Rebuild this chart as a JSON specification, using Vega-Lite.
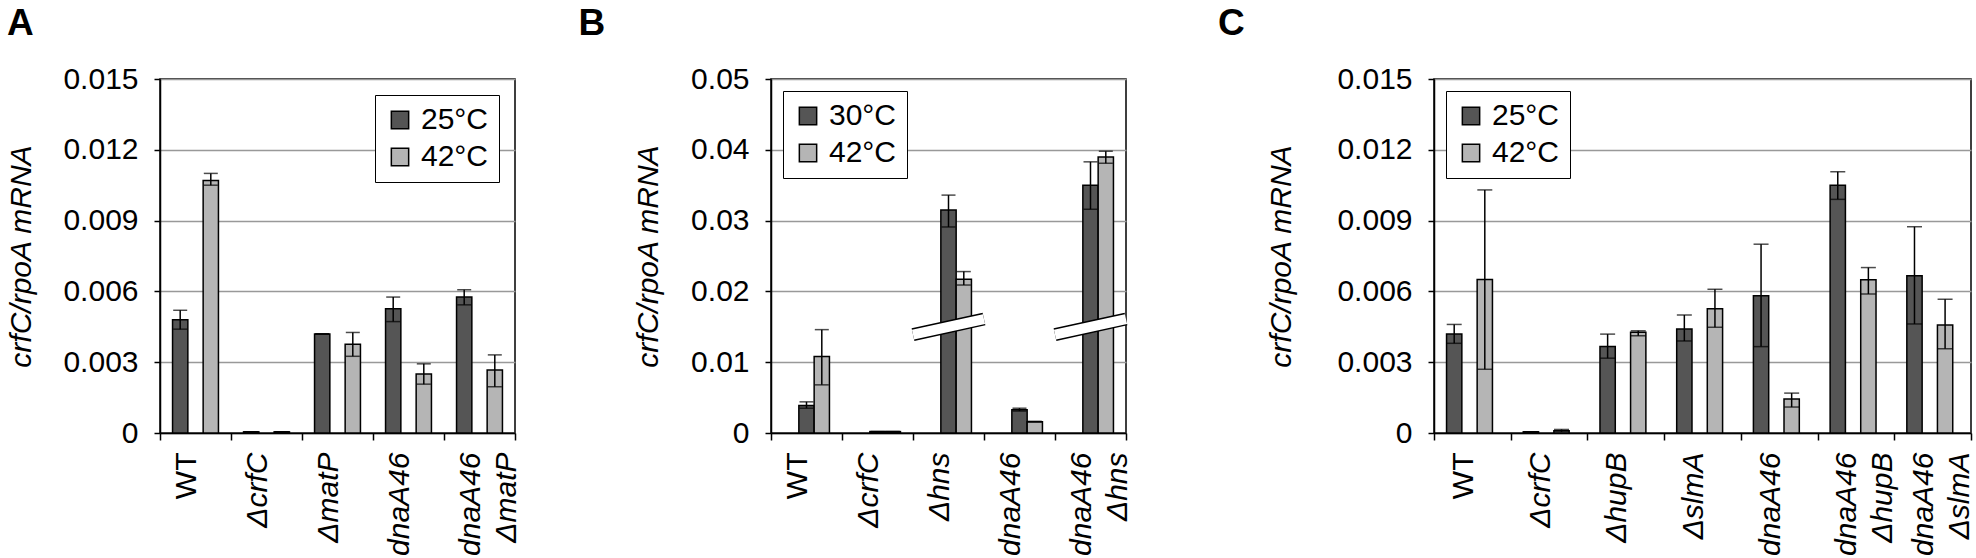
{
  "$schema": "https://vega.github.io/schema/vega-lite/v6.json",
  "padding": {"left": 6, "top": 4, "right": 0, "bottom": 0},
  "config": {
    "font": "Liberation Sans",
    "view": {"stroke": "black", "strokeWidth": 1.5},
    "axis": {
      "labelFont": "Liberation Sans", "labelFontSize": 30, "labelColor": "black",
      "titleFont": "Liberation Sans", "titleFontSize": 30, "titleFontWeight": "normal", "titleColor": "black",
      "tickColor": "black", "tickWidth": 1.5, "domainColor": "black", "domainWidth": 1.5
    },
    "axisX": {
      "tickBand": "extent", "tickSize": 7, "labelAngle": -90, "labelPadding": 12,
      "labelExpr": "split(datum.label, ' ')", "labelLineHeight": 36, "labelOffset": -9, "labelOverlap": false,
      "grid": false, "title": null,
      "labelFontStyle": {"condition": {"test": "datum.value === 'WT'", "value": "normal"}, "value": "italic"}
    },
    "axisY": {
      "tickSize": 6, "labelPadding": 16, "gridColor": "#999999", "gridWidth": 1.5,
      "titleFontStyle": "italic"
    },
    "legend": {
      "labelFont": "Liberation Sans", "labelFontSize": 30, "labelColor": "black",
      "symbolType": "square", "symbolSize": 300, "symbolStrokeColor": "black", "symbolStrokeWidth": 1.5,
      "strokeColor": "black", "fillColor": "white", "padding": 10, "rowPadding": 7, "labelOffset": 6,
      "symbolOpacity": 1, "title": null
    },
    "title": {"fontSize": 37, "fontWeight": "bold", "anchor": "start", "color": "black", "baseline": "alphabetic", "offset": 21},
    "tick": {"thickness": 1.5}
  },
  "datasets": {
    "a": [
      {"g": "WT", "t": "25°C", "v": 0.0048, "lo": 0.0044, "hi": 0.0052},
      {"g": "WT", "t": "42°C", "v": 0.0107, "lo": 0.0105, "hi": 0.0110},
      {"g": "ΔcrfC", "t": "25°C", "v": 0.00005, "lo": 0.00005, "hi": 0.00005},
      {"g": "ΔcrfC", "t": "42°C", "v": 0.00005, "lo": 0.00005, "hi": 0.00005},
      {"g": "ΔmatP", "t": "25°C", "v": 0.0042, "lo": 0.0042, "hi": 0.0042},
      {"g": "ΔmatP", "t": "42°C", "v": 0.00376, "lo": 0.00325, "hi": 0.00426},
      {"g": "dnaA46", "t": "25°C", "v": 0.00526, "lo": 0.00472, "hi": 0.00576},
      {"g": "dnaA46", "t": "42°C", "v": 0.0025, "lo": 0.00207, "hi": 0.00293},
      {"g": "dnaA46 ΔmatP", "t": "25°C", "v": 0.00576, "lo": 0.00543, "hi": 0.00607},
      {"g": "dnaA46 ΔmatP", "t": "42°C", "v": 0.00267, "lo": 0.00196, "hi": 0.00331}
    ],
    "b": [
      {"g": "WT", "t": "30°C", "v": 0.0039, "lo": 0.0035, "hi": 0.0044},
      {"g": "WT", "t": "42°C", "v": 0.0108, "lo": 0.0068, "hi": 0.0146},
      {"g": "ΔcrfC", "t": "30°C", "v": 0.0002, "lo": 0.0002, "hi": 0.0002},
      {"g": "ΔcrfC", "t": "42°C", "v": 0.0002, "lo": 0.0002, "hi": 0.0002},
      {"g": "Δhns", "t": "30°C", "v": 0.0315, "lo": 0.0291, "hi": 0.0336},
      {"g": "Δhns", "t": "42°C", "v": 0.0217, "lo": 0.0209, "hi": 0.0228},
      {"g": "dnaA46", "t": "30°C", "v": 0.0033, "lo": 0.0031, "hi": 0.0035},
      {"g": "dnaA46", "t": "42°C", "v": 0.0016, "lo": 0.00155, "hi": 0.00165},
      {"g": "dnaA46 Δhns", "t": "30°C", "v": 0.035, "lo": 0.0316, "hi": 0.0383},
      {"g": "dnaA46 Δhns", "t": "42°C", "v": 0.039, "lo": 0.0381, "hi": 0.0398}
    ],
    "bbreak": [
      {"g": "Δhns", "y1": 0.0139, "y2": 0.0161},
      {"g": "dnaA46 Δhns", "y1": 0.0139, "y2": 0.0161}
    ],
    "c": [
      {"g": "WT", "t": "25°C", "v": 0.0042, "lo": 0.0038, "hi": 0.0046},
      {"g": "WT", "t": "42°C", "v": 0.0065, "lo": 0.0027, "hi": 0.0103},
      {"g": "ΔcrfC", "t": "25°C", "v": 0.00005, "lo": 0.00005, "hi": 0.00005},
      {"g": "ΔcrfC", "t": "42°C", "v": 0.0001, "lo": 0.00005, "hi": 0.00015},
      {"g": "ΔhupB", "t": "25°C", "v": 0.00366, "lo": 0.00317, "hi": 0.00419},
      {"g": "ΔhupB", "t": "42°C", "v": 0.00427, "lo": 0.00412, "hi": 0.00433},
      {"g": "ΔslmA", "t": "25°C", "v": 0.00441, "lo": 0.0039, "hi": 0.005},
      {"g": "ΔslmA", "t": "42°C", "v": 0.00526, "lo": 0.00448, "hi": 0.00609},
      {"g": "dnaA46", "t": "25°C", "v": 0.00582, "lo": 0.00366, "hi": 0.008},
      {"g": "dnaA46", "t": "42°C", "v": 0.00144, "lo": 0.0011, "hi": 0.00169},
      {"g": "dnaA46 ΔhupB", "t": "25°C", "v": 0.0105, "lo": 0.0099, "hi": 0.01107},
      {"g": "dnaA46 ΔhupB", "t": "42°C", "v": 0.00649, "lo": 0.00589, "hi": 0.00701},
      {"g": "dnaA46 ΔslmA", "t": "25°C", "v": 0.00666, "lo": 0.00462, "hi": 0.00874},
      {"g": "dnaA46 ΔslmA", "t": "42°C", "v": 0.00458, "lo": 0.00357, "hi": 0.00567}
    ]
  },
  "hconcat": [
    {
      "hconcat": [
        {
          "title": {"text": "A"},
          "width": 355, "height": 354,
          "data": {"name": "a"},
          "encoding": {
            "x": {"field": "g", "type": "nominal", "sort": ["WT", "ΔcrfC", "ΔmatP", "dnaA46", "dnaA46 ΔmatP"], "scale": {"paddingInner": 0, "paddingOuter": 0}},
            "xOffset": {"field": "t", "type": "nominal", "scale": {"paddingOuter": 0.82, "paddingInner": 0}}
          },
          "layer": [
            {
              "mark": {"type": "bar", "stroke": "black", "strokeWidth": 1.5},
              "encoding": {
                "y": {"field": "v", "type": "quantitative", "title": "crfC/rpoA mRNA", "scale": {"domain": [0, 0.015], "nice": false}, "axis": {"values": [0, 0.003, 0.006, 0.009, 0.012, 0.015], "format": ".3~f", "titlePadding": 26}},
                "color": {"field": "t", "type": "nominal", "scale": {"domain": ["25°C", "42°C"], "range": ["#555555", "#b5b5b5"]}, "legend": {"orient": "top-right", "offset": 16}}
              }
            },
            {
              "mark": {"type": "rule", "color": "black", "strokeWidth": 1.5},
              "encoding": {"y": {"field": "lo", "type": "quantitative", "title": "crfC/rpoA mRNA"}, "y2": {"field": "hi"}}
            },
            {
              "mark": {"type": "tick", "color": "black", "size": 14},
              "encoding": {"y": {"field": "lo", "type": "quantitative", "title": "crfC/rpoA mRNA"}}
            },
            {
              "mark": {"type": "tick", "color": "black", "size": 14},
              "encoding": {"y": {"field": "hi", "type": "quantitative", "title": "crfC/rpoA mRNA"}}
            }
          ]
        },
        {
          "title": {"text": "B", "dx": -55},
          "width": 355, "height": 354,
          "encoding": {
            "x": {"field": "g", "type": "nominal", "sort": ["WT", "ΔcrfC", "Δhns", "dnaA46", "dnaA46 Δhns"], "scale": {"paddingInner": 0, "paddingOuter": 0}}
          },
          "layer": [
            {
              "data": {"name": "b"},
              "mark": {"type": "bar", "stroke": "black", "strokeWidth": 1.5},
              "encoding": {
                "xOffset": {"field": "t", "type": "nominal", "scale": {"paddingOuter": 0.79, "paddingInner": 0}},
                "y": {"field": "v", "type": "quantitative", "title": "crfC/rpoA mRNA", "scale": {"domain": [0, 0.05], "nice": false}, "axis": {"values": [0, 0.01, 0.02, 0.03, 0.04, 0.05], "format": ".2~f", "titlePadding": 27}},
                "color": {"field": "t", "type": "nominal", "scale": {"domain": ["30°C", "42°C"], "range": ["#555555", "#b5b5b5"]}, "legend": {"orient": "top-left", "offset": 12}}
              }
            },
            {
              "data": {"name": "b"},
              "mark": {"type": "rule", "color": "black", "strokeWidth": 1.5},
              "encoding": {
                "xOffset": {"field": "t", "type": "nominal"},
                "y": {"field": "lo", "type": "quantitative", "title": "crfC/rpoA mRNA"}, "y2": {"field": "hi"}}
            },
            {
              "data": {"name": "b"},
              "mark": {"type": "tick", "color": "black", "size": 14},
              "encoding": {"xOffset": {"field": "t", "type": "nominal"}, "y": {"field": "lo", "type": "quantitative", "title": "crfC/rpoA mRNA"}}
            },
            {
              "data": {"name": "b"},
              "mark": {"type": "tick", "color": "black", "size": 14},
              "encoding": {"xOffset": {"field": "t", "type": "nominal"}, "y": {"field": "hi", "type": "quantitative", "title": "crfC/rpoA mRNA"}}
            },
            {
              "data": {"name": "bbreak"},
              "mark": {"type": "rule", "color": "black", "strokeWidth": 13, "strokeCap": "butt"},
              "encoding": {
                "x": {"field": "g", "type": "nominal", "bandPosition": 0},
                "x2": {"field": "g", "bandPosition": 1},
                "y": {"field": "y1", "type": "quantitative", "title": "crfC/rpoA mRNA"}, "y2": {"field": "y2"}}
            },
            {
              "data": {"name": "bbreak"},
              "mark": {"type": "rule", "color": "white", "strokeWidth": 10, "strokeCap": "butt"},
              "encoding": {
                "x": {"field": "g", "type": "nominal", "bandPosition": 0},
                "x2": {"field": "g", "bandPosition": 1},
                "y": {"field": "y1", "type": "quantitative", "title": "crfC/rpoA mRNA"}, "y2": {"field": "y2"}}
            }
          ]
        }
      ],
      "spacing": 54,
      "resolve": {"scale": {"color": "independent"}}
    },
    {
      "title": {"text": "C", "dx": -49},
      "width": 537, "height": 354,
      "data": {"name": "c"},
      "encoding": {
        "x": {"field": "g", "type": "nominal", "sort": ["WT", "ΔcrfC", "ΔhupB", "ΔslmA", "dnaA46", "dnaA46 ΔhupB", "dnaA46 ΔslmA"], "scale": {"paddingInner": 0, "paddingOuter": 0}},
        "xOffset": {"field": "t", "type": "nominal", "scale": {"paddingOuter": 0.745, "paddingInner": 0}}
      },
      "layer": [
        {
          "mark": {"type": "bar", "stroke": "black", "strokeWidth": 1.5},
          "encoding": {
            "y": {"field": "v", "type": "quantitative", "title": "crfC/rpoA mRNA", "scale": {"domain": [0, 0.015], "nice": false}, "axis": {"values": [0, 0.003, 0.006, 0.009, 0.012, 0.015], "format": ".3~f", "titlePadding": 40}},
            "color": {"field": "t", "type": "nominal", "scale": {"domain": ["25°C", "42°C"], "range": ["#555555", "#b5b5b5"]}, "legend": {"orient": "top-left", "offset": 12}}
          }
        },
        {
          "mark": {"type": "rule", "color": "black", "strokeWidth": 1.5},
          "encoding": {"y": {"field": "lo", "type": "quantitative", "title": "crfC/rpoA mRNA"}, "y2": {"field": "hi"}}
        },
        {
          "mark": {"type": "tick", "color": "black", "size": 15},
          "encoding": {"y": {"field": "lo", "type": "quantitative", "title": "crfC/rpoA mRNA"}}
        },
        {
          "mark": {"type": "tick", "color": "black", "size": 15},
          "encoding": {"y": {"field": "hi", "type": "quantitative", "title": "crfC/rpoA mRNA"}}
        }
      ]
    }
  ],
  "spacing": 83,
  "resolve": {"scale": {"color": "independent"}}
}
